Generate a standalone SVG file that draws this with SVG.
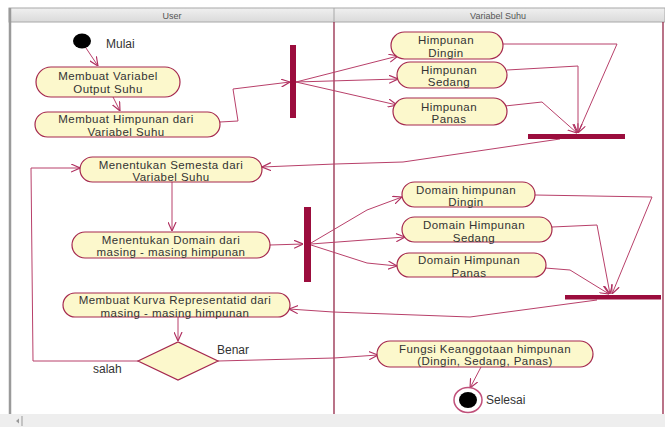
<svg xmlns="http://www.w3.org/2000/svg" width="665" height="427" viewBox="0 0 665 427">
<defs>
<marker id="arr" viewBox="0 0 10 10" refX="10" refY="5" markerWidth="9" markerHeight="9" markerUnits="userSpaceOnUse" orient="auto">
<path d="M0,0.5 L10,5 L0,9.5" fill="none" stroke="#b03060" stroke-width="1.3"/>
</marker>
<linearGradient id="hdr" x1="0" y1="0" x2="0" y2="1">
<stop offset="0" stop-color="#f0f0f0"/>
<stop offset="1" stop-color="#dadada"/>
</linearGradient>
</defs>
<style>
.node{fill:#fcf8cc;stroke:#a5284e;stroke-width:1.2}
.t{font-family:"Liberation Sans",Arial,sans-serif;font-size:11.5px;letter-spacing:0.45px;fill:#333;text-anchor:middle}
.lbl{font-family:"Liberation Sans",Arial,sans-serif;font-size:12px;fill:#333}
.hd{font-family:"Liberation Sans",Arial,sans-serif;font-size:9px;fill:#555;text-anchor:middle}
.c{fill:none;stroke:#b8406a;stroke-width:1;marker-end:url(#arr)}
.bar{fill:#9b0d3d}
</style>
<rect x="0" y="0" width="665" height="427" fill="#ffffff"/>
<g id="lanes">
<rect x="9" y="8" width="656" height="14" fill="url(#hdr)" stroke="#a8a8a8" stroke-width="1"/>
<text class="hd" x="172" y="18.5">User</text>
<text class="hd" x="498" y="18.5">Variabel Suhu</text>
<line x1="10" y1="8" x2="10" y2="414" stroke="#9a9a9a" stroke-width="2.5"/>
<line x1="334" y1="8" x2="334" y2="22" stroke="#a8a8a8" stroke-width="1"/>
<line x1="334" y1="22" x2="334" y2="414" stroke="#8b1538" stroke-width="1.2"/>
<line x1="663" y1="22" x2="663" y2="414" stroke="#8b1538" stroke-width="1.2"/>
<rect x="0" y="414" width="665" height="13" fill="#eeeeee"/>
<polygon points="16,421 19,418.5 19,423.5" fill="#999"/>
<line x1="22" y1="416" x2="22" y2="426" stroke="#999" stroke-width="1"/>
</g>
<g id="connectors">
<path class="c" d="M86,48 L98,66"/>
<path class="c" d="M113,97 L120,111"/>
<path class="c" d="M220,122 L238,121 L233,89 L290,82"/>
<path class="c" d="M296,82 L398,56"/>
<path class="c" d="M296,82 L398,79"/>
<path class="c" d="M296,82 L397,105"/>
<path class="c" d="M503,44 L617,44 L578,133"/>
<path class="c" d="M507,70 L578,66 L578,133"/>
<path class="c" d="M505,106 L542,102 L577,133"/>
<path class="c" d="M560,139 L403,162 L335,164 L262,167"/>
<path class="c" d="M172,182 L172,231"/>
<path class="c" d="M270,245 L303,244"/>
<path class="c" d="M311,243 L367,210 L402,197"/>
<path class="c" d="M311,244 L405,237"/>
<path class="c" d="M311,245 L367,263 L397,266"/>
<path class="c" d="M535,195 L652,197 L612,294"/>
<path class="c" d="M552,227 L597,225 L610,294"/>
<path class="c" d="M545,268 L570,270 L609,294"/>
<path class="c" d="M597,300 L470,317 L333,312 L289,309"/>
<path class="c" d="M178,317 L178,341"/>
<path class="c" d="M138,361 L33,361 L31,168 L80,168"/>
<path class="c" d="M218,361 L334,358 L378,355"/>
<path class="c" d="M481,367 L470,388"/>
</g>
<g id="start">
<ellipse cx="82" cy="41" rx="9" ry="7.5" fill="#000"/>
<text class="lbl" x="106" y="48">Mulai</text>
</g>
<g id="n1">
<rect class="node" x="36" y="67" width="144" height="30" rx="15"/>
<text class="t" x="108" y="79.5">Membuat Variabel</text>
<text class="t" x="108" y="92.5">Output Suhu</text>
</g>
<g id="n2">
<rect class="node" x="35" y="112" width="185" height="25" rx="12.5"/>
<text class="t" x="126" y="123">Membuat Himpunan dari</text>
<text class="t" x="126" y="135.5">Variabel Suhu</text>
</g>
<g id="fork1"><rect class="bar" x="290" y="45" width="6" height="73"/></g>
<g id="hdingin">
<rect class="node" x="391" y="32" width="112" height="27" rx="13.5"/>
<text class="t" x="446" y="43.5">Himpunan</text>
<text class="t" x="446" y="56.5">Dingin</text>
</g>
<g id="hsedang">
<rect class="node" x="397" y="62" width="110" height="26" rx="13"/>
<text class="t" x="449" y="73.5">Himpunan</text>
<text class="t" x="449" y="86">Sedang</text>
</g>
<g id="hpanas">
<rect class="node" x="393" y="98" width="114" height="27" rx="13.5"/>
<text class="t" x="449" y="110.5">Himpunan</text>
<text class="t" x="449" y="123">Panas</text>
</g>
<g id="join1"><rect class="bar" x="528" y="134" width="97" height="5"/></g>
<g id="semesta">
<rect class="node" x="80" y="157" width="182" height="25" rx="12.5"/>
<text class="t" x="171" y="168.5">Menentukan Semesta dari</text>
<text class="t" x="171" y="181">Variabel Suhu</text>
</g>
<g id="domain">
<rect class="node" x="72" y="232" width="198" height="26" rx="13"/>
<text class="t" x="171" y="243.5">Menentukan Domain dari</text>
<text class="t" x="171" y="256">masing - masing himpunan</text>
</g>
<g id="fork2"><rect class="bar" x="304" y="207" width="7" height="75"/></g>
<g id="ddingin">
<rect class="node" x="402" y="182" width="133" height="25" rx="12.5"/>
<text class="t" x="466" y="193.5">Domain himpunan</text>
<text class="t" x="466" y="206">Dingin</text>
</g>
<g id="dsedang">
<rect class="node" x="402" y="217" width="150" height="25" rx="12.5"/>
<text class="t" x="474" y="229">Domain Himpunan</text>
<text class="t" x="474" y="241.5">Sedang</text>
</g>
<g id="dpanas">
<rect class="node" x="397" y="253" width="149" height="24" rx="12"/>
<text class="t" x="469" y="264">Domain Himpunan</text>
<text class="t" x="469" y="276.5">Panas</text>
</g>
<g id="join2"><rect class="bar" x="565" y="295" width="96" height="4.5"/></g>
<g id="kurva">
<rect class="node" x="63" y="293" width="227" height="24" rx="12"/>
<text class="t" x="175" y="304">Membuat Kurva Representatid dari</text>
<text class="t" x="175" y="316.5">masing - masing himpunan</text>
</g>
<g id="decision">
<polygon class="node" points="138,361 178,342 218,361 178,380"/>
<text class="lbl" x="217" y="354">Benar</text>
<text class="lbl" x="93" y="373">salah</text>
</g>
<g id="fungsi">
<rect class="node" x="377" y="341" width="216" height="26" rx="13"/>
<text class="t" x="485" y="352.5">Fungsi Keanggotaan himpunan</text>
<text class="t" x="485" y="365">(Dingin, Sedang, Panas)</text>
</g>
<g id="end">
<ellipse cx="468" cy="400" rx="14" ry="12.5" fill="#fff" stroke="#c0507a" stroke-width="1.5"/>
<ellipse cx="468" cy="400" rx="9" ry="8" fill="#000"/>
<text class="lbl" x="486" y="404">Selesai</text>
</g>
</svg>
